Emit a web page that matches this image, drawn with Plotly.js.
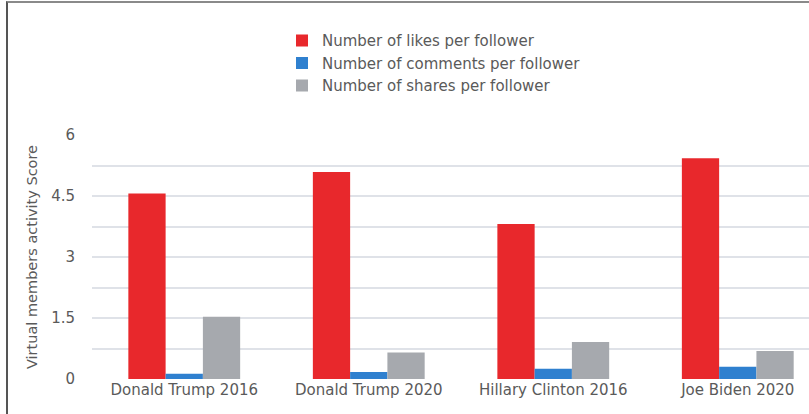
<!DOCTYPE html>
<html>
<head>
<meta charset="utf-8">
<script src="https://cdn.plot.ly/plotly-3.0.1.min.js"></script>
<style>
  html, body { margin: 0; padding: 0; background: #fff; }
  #wrap { position: relative; width: 809px; height: 414px; }
  #chart { width: 809px; height: 414px; }
  #frame { position: absolute; left: 6px; top: 1px; right: -10px; bottom: -10px;
           border-left: 2px solid #555; border-top: 2px solid #8a8a8a; pointer-events: none; }
</style>
</head>
<body>
<div id="wrap">
  <div id="chart"></div>
  <div id="frame"></div>
</div>
<script>
const categories = ["Donald Trump 2016", "Donald Trump 2020", "Hillary Clinton 2016", "Joe Biden 2020"];
const likes = [4.56, 5.09, 3.81, 5.43];
const comments = [0.13, 0.17, 0.25, 0.30];
const shares = [1.53, 0.65, 0.91, 0.69];
const seriesNames = ["Number of likes per follower", "Number of comments per follower", "Number of shares per follower"];
const tickVals = [0, 0.75, 1.5, 2.25, 3, 3.75, 4.5, 5.25, 6];
const tickText = ["0", "", "1.5", "", "3", "", "4.5", "", "6"];

const colors = ["#e8282c", "#2f80cf", "#a6a9ae"];
const values = [likes, comments, shares];
const data = values.map((v, i) => ({
  type: "bar", x: categories, y: v, name: seriesNames[i],
  marker: { color: colors[i], line: { width: 0 } },
  hoverinfo: "x+y+name"
}));

const FONT = "DejaVu Sans, Liberation Sans, Arial, sans-serif";
const layout = {
  width: 809, height: 414,
  margin: { l: 92, r: 0, t: 135, b: 35 },
  paper_bgcolor: "#fff", plot_bgcolor: "#fff",
  font: { family: FONT, color: "#5a5a5a", size: 15 },
  barmode: "group", bargap: 0.394, bargroupgap: 0,
  showlegend: true,
  legend: {
    x: 0.265, xanchor: "left", y: 1.454, yanchor: "top",
    font: { size: 15, color: "#5a5a5a", family: FONT }, bgcolor: "rgba(0,0,0,0)",
    traceorder: "normal", itemclick: false
  },
  xaxis: {
    type: "category", range: [-0.5, 3.386], showgrid: false, zeroline: false,
    showline: false, ticks: "", tickfont: { size: 15, color: "#5a5a5a", family: FONT }
  },
  yaxis: {
    range: [0, 6], tickmode: "array", tickvals: tickVals, ticktext: tickText,
    showgrid: true, gridcolor: "#dfe2e8", gridwidth: 1.5, zeroline: false,
    showline: false, ticks: "", ticklabelstandoff: 16,
    tickfont: { size: 15, color: "#5a5a5a", family: FONT },
    title: { text: "Virtual members activity Score", font: { size: 14.5, color: "#5a5a5a", family: FONT }, standoff: 10 }
  }
};
Plotly.newPlot("chart", data, layout, { displayModeBar: false });
</script>
</body>
</html>
